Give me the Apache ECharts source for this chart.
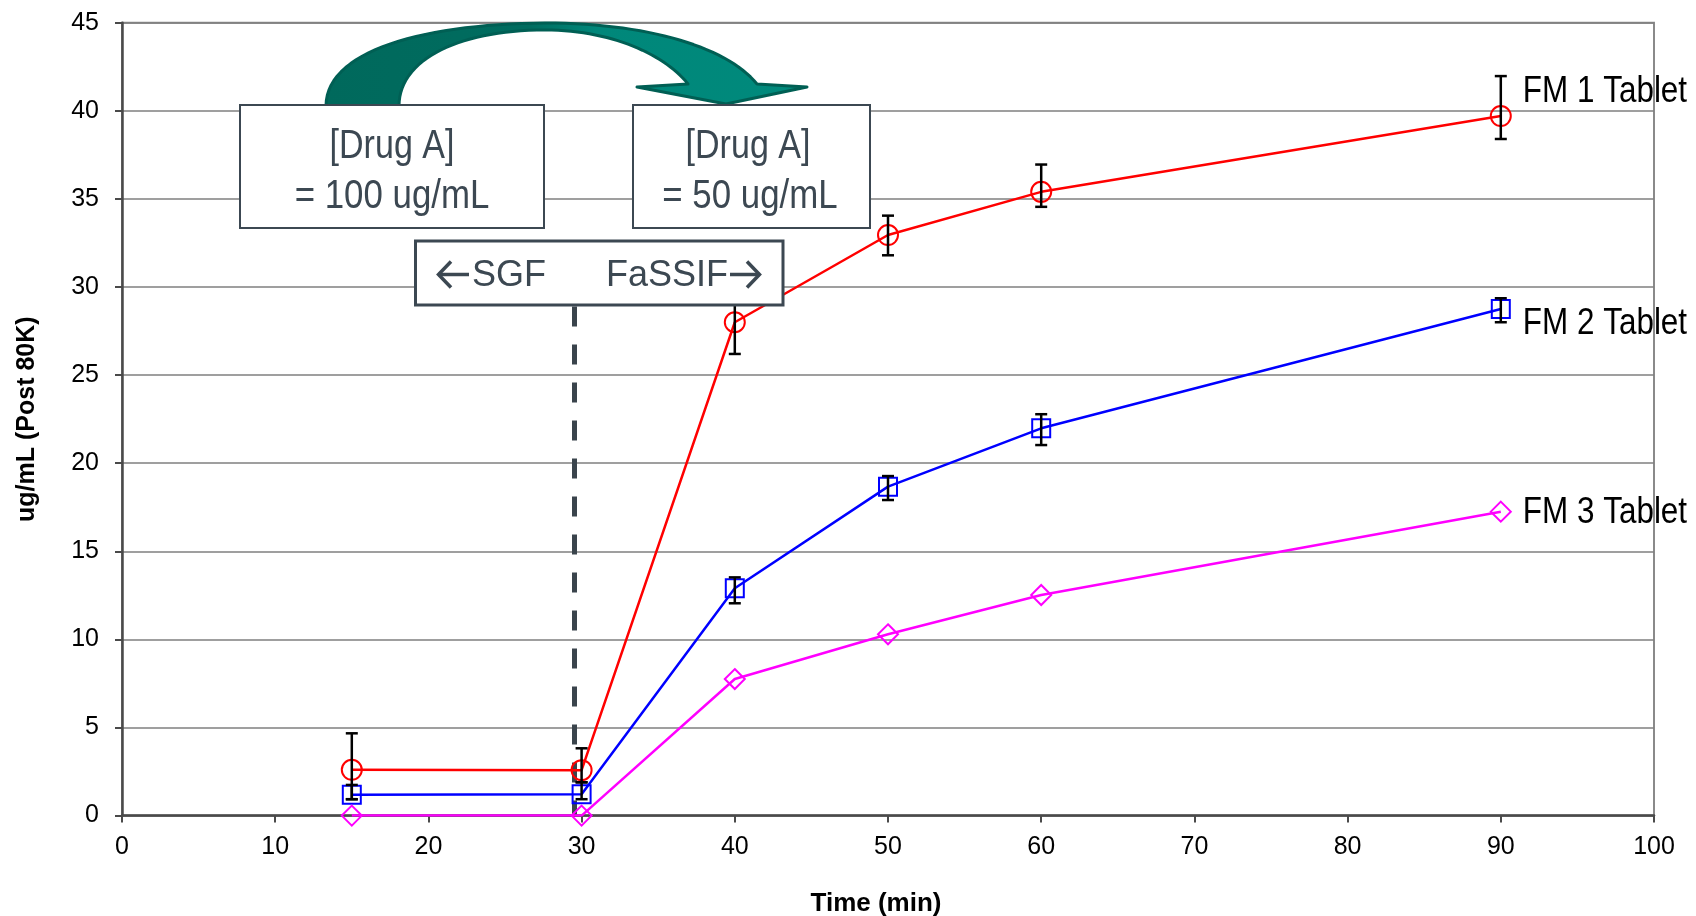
<!DOCTYPE html>
<html>
<head>
<meta charset="utf-8">
<script src="https://cdn.jsdelivr.net/npm/echarts@6/dist/echarts.min.js"></script>
<style>
html,body{margin:0;padding:0;background:#fff;}
#chart{width:1696px;height:916px;}
</style>
</head>
<body>
<div id="chart"></div>
<script>
// ---- data ----
const times = [15, 30, 40, 50, 60, 90];
const fm1 = [2.6, 2.58, 28.0, 32.95, 35.4, 39.7];
const fm1Low = [0.93, 1.89, 26.2, 31.8, 34.55, 38.4];
const fm1High = [4.67, 3.82, 29.8, 34.05, 36.95, 41.97];
const fm2 = [1.18, 1.21, 12.9, 18.67, 21.98, 28.75];
const fm2Low = [0.93, 0.93, 12.05, 17.91, 21.03, 28.0];
const fm2High = [1.74, 1.89, 13.52, 19.27, 22.78, 29.36];
const fm3 = [0, 0, 7.75, 10.29, 12.52, 17.25];
const seriesNames = ['FM 1 Tablet', 'FM 2 Tablet', 'FM 3 Tablet'];
const xTicks = {min: 0, max: 100, interval: 10};
const yTicks = {min: 0, max: 45, interval: 5};
const mediaSwitchTime = 29.55;
const mediaSwitchTop = 28.9;

const ARIAL = '"Liberation Sans", Arial, sans-serif';
const SLATE = '#3c4852';

function lineData(vals) {
  return times.map((t, i) => [t, vals[i]]);
}
function errData(lo, hi) {
  return times.map((t, i) => [t, lo[i], hi[i]]);
}
function lineSeries(name, vals, color, symbol, size) {
  return {
    name: name, type: 'line', data: lineData(vals),
    symbol: symbol, symbolSize: size,
    lineStyle: {color: color, width: 2.5},
    itemStyle: {color: 'rgba(0,0,0,0)', borderColor: color, borderWidth: 2},
    label: {show: false},
    z: 3
  };
}
function errSeries(lo, hi) {
  return {
    type: 'custom', data: errData(lo, hi), z: 4, silent: true,
    renderItem: function (params, api) {
      const x = api.value(0);
      const top = api.coord([x, api.value(2)]);
      const bot = api.coord([x, api.value(1)]);
      const w = 6;
      const st = {stroke: '#000', lineWidth: 2.5};
      return {type: 'group', children: [
        {type: 'line', shape: {x1: top[0], y1: top[1], x2: bot[0], y2: bot[1]}, style: st},
        {type: 'line', shape: {x1: top[0] - w, y1: top[1], x2: top[0] + w, y2: top[1]}, style: st},
        {type: 'line', shape: {x1: bot[0] - w, y1: bot[1], x2: bot[0] + w, y2: bot[1]}, style: st}
      ]};
    }
  };
}

const s1 = lineSeries(seriesNames[0], fm1, '#ff0000', 'circle', 20);
const s2 = lineSeries(seriesNames[1], fm2, '#0000ff', 'rect', 18);
const s3 = lineSeries(seriesNames[2], fm3, '#ff00ff', 'diamond', 20);
s3.markLine = {
  silent: true, symbol: 'none', label: {show: false}, z: 1,
  lineStyle: {type: [20, 18], color: '#3a444c', width: 5},
  data: [[{coord: [mediaSwitchTime, mediaSwitchTop]}, {coord: [mediaSwitchTime, 0]}]]
};

// curved annotation arrow, built as a polygon from cubic segments
function cubic(p0, p1, p2, p3, n) {
  const pts = [];
  for (let i = 0; i <= n; i++) {
    const t = i / n, u = 1 - t;
    pts.push([
      u*u*u*p0[0] + 3*u*u*t*p1[0] + 3*u*t*t*p2[0] + t*t*t*p3[0],
      u*u*u*p0[1] + 3*u*u*t*p1[1] + 3*u*t*t*p2[1] + t*t*t*p3[1]
    ]);
  }
  return pts;
}
const arrowPts = [].concat(
  cubic([326,106],[326,50],[425,24],[545,23], 30),
  cubic([545,23],[650,23],[728,48],[757,84], 30).slice(1),
  [[807,87],[726,104],[637,87],[688,84]],
  cubic([688,84],[665,55],[612,30],[545,30], 30).slice(1),
  cubic([545,30],[462,30],[399,58],[399,106], 30).slice(1)
);
const arrowFill = {
  type: 'linear', x: 0, y: 0, x2: 1, y2: 0, global: false,
  colorStops: [
    {offset: 0, color: '#00695c'}, {offset: 0.42, color: '#006c5f'},
    {offset: 0.56, color: '#00877a'}, {offset: 1, color: '#008a7c'}]
};

function narrowText(text, x, y, size, color, align, sx) {
  return {type: 'text', z: 101, x: x, y: y, scaleX: sx,
    style: {text: text, x: 0, y: 0, align: align, verticalAlign: 'middle',
            fill: color, fontSize: size, fontFamily: ARIAL}};
}
const arrowGlyphStyle = {stroke: SLATE, lineWidth: 3.5, fill: null, lineCap: 'butt', lineJoin: 'miter'};

const baseGraphic = [
  {type: 'polygon', z: 100, shape: {points: arrowPts},
   style: {fill: arrowFill, stroke: '#005f54', lineWidth: 3, lineJoin: 'round'}},
  {type: 'rect', z: 100, shape: {x: 240, y: 105, width: 304, height: 123},
   style: {fill: '#fff', stroke: SLATE, lineWidth: 2}},
  {type: 'rect', z: 100, shape: {x: 633, y: 105, width: 237, height: 123},
   style: {fill: '#fff', stroke: SLATE, lineWidth: 2}},
  {type: 'rect', z: 100, shape: {x: 415.5, y: 241, width: 367.5, height: 64},
   style: {fill: '#fff', stroke: SLATE, lineWidth: 3}},
  narrowText('[Drug A]', 392, 147, 41, SLATE, 'center', 0.83),
  narrowText('= 100 ug/mL', 392, 197, 41, SLATE, 'center', 0.85),
  narrowText('[Drug A]', 748, 147, 41, SLATE, 'center', 0.83),
  narrowText('= 50 ug/mL', 750, 197, 41, SLATE, 'center', 0.85),
  {type: 'polyline', z: 101, shape: {points: [[438, 274.5], [469, 274.5]]}, style: arrowGlyphStyle},
  {type: 'polyline', z: 101, shape: {points: [[451, 261.5], [438.5, 274.5], [451, 287.5]]}, style: arrowGlyphStyle},
  {type: 'text', z: 101, style: {text: 'SGF', x: 472, y: 276, align: 'left', verticalAlign: 'middle',
    fill: SLATE, fontSize: 36, fontFamily: ARIAL}},
  {type: 'text', z: 101, style: {text: 'FaSSIF', x: 728, y: 276, align: 'right', verticalAlign: 'middle',
    fill: SLATE, fontSize: 36, fontFamily: ARIAL}},
  {type: 'polyline', z: 101, shape: {points: [[730, 274.5], [760, 274.5]]}, style: arrowGlyphStyle},
  {type: 'polyline', z: 101, shape: {points: [[747, 261.5], [759.5, 274.5], [747, 287.5]]}, style: arrowGlyphStyle}
];

const chart = echarts.init(document.getElementById('chart'));
const option = {
  animation: false,
  backgroundColor: '#fff',
  grid: {left: 122, right: 42, top: 22.7, bottom: 100.4, show: true,
         borderColor: '#8a8a8a', borderWidth: 2, containLabel: false, outerBoundsMode: 'none'},
  xAxis: {
    type: 'value', min: xTicks.min, max: xTicks.max, interval: xTicks.interval,
    name: 'Time (min)', nameLocation: 'middle', nameGap: 75,
    nameTextStyle: {fontSize: 26, fontWeight: 'bold', color: '#000', fontFamily: ARIAL, padding: [0, 24, 0, 0]},
    axisLine: {show: true, onZero: false, lineStyle: {color: '#4a4a4a', width: 2.5}},
    axisTick: {show: true, length: 7, lineStyle: {color: '#4a4a4a', width: 2}},
    axisLabel: {fontSize: 25, color: '#000', fontFamily: ARIAL, margin: 19},
    splitLine: {show: false}
  },
  yAxis: {
    type: 'value', min: yTicks.min, max: yTicks.max, interval: yTicks.interval,
    name: 'ug/mL (Post 80K)', nameLocation: 'middle', nameGap: 82,
    nameTextStyle: {fontSize: 25, fontWeight: 'bold', color: '#000', fontFamily: ARIAL},
    axisLine: {show: true, lineStyle: {color: '#4a4a4a', width: 2.5}},
    axisTick: {show: true, length: 7, lineStyle: {color: '#4a4a4a', width: 2}},
    axisLabel: {fontSize: 25, color: '#000', fontFamily: ARIAL, margin: 23},
    splitLine: {show: true, lineStyle: {color: '#7f7f7f', width: 1.5}}
  },
  series: [s1, s2, s3, errSeries(fm1Low, fm1High), errSeries(fm2Low, fm2High)],
  graphic: baseGraphic
};
chart.setOption(option);

// series name labels anchored to each series' last point through the axes
const labelDy = [-24, 15, 1];
const allVals = [fm1, fm2, fm3];
const lastT = times[times.length - 1];
const nameLabels = seriesNames.map((n, i) => {
  const v = allVals[i][allVals[i].length - 1];
  const p = chart.convertToPixel({gridIndex: 0}, [lastT, v]);
  return narrowText(n, p[0] + 22, p[1] + labelDy[i], 37, '#000', 'left', 0.85);
});
chart.setOption({graphic: baseGraphic.concat(nameLabels)});
</script>
</body>
</html>
